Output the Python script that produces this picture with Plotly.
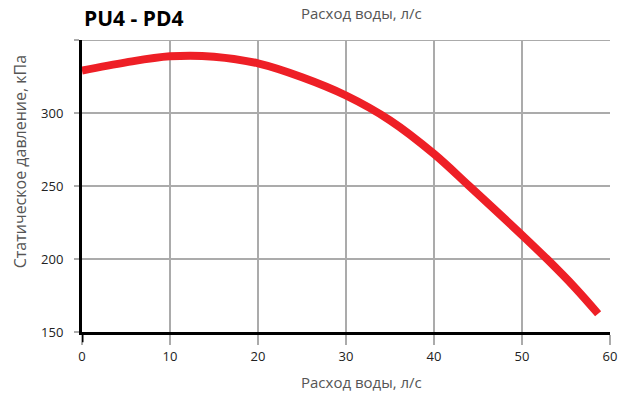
import plotly.graph_objects as go

flow = [0, 5, 10, 15, 20, 25, 30, 35, 40, 44, 50, 53, 56, 58.65]
pressure = [329, 334.7, 338.8, 338.6, 334, 324.5, 312, 295, 272, 250, 216.4, 199, 180.5, 162.5]

x_ticks = [0, 10, 20, 30, 40, 50, 60]
y_ticks = [150, 200, 250, 300, 350]
y_tick_text = ["150", "200", "250", "300", ""]

title_text = "PU4 - PD4"
x_title = "Расход воды, л/с"
y_title = "Статическое давление, кПа"

font_family = "Open Sans, Noto Sans, sans-serif"
grid_color = "#ababab"

fig = go.Figure()
fig.add_trace(go.Scatter(
    x=flow, y=pressure, mode="lines",
    line=dict(color="#ee1f26", width=8, shape="spline", smoothing=1.0),
    hoverinfo="skip", showlegend=False,
))

fig.update_layout(
    width=632, height=394,
    margin=dict(l=82, r=22, t=40, b=62),
    paper_bgcolor="white", plot_bgcolor="white",
    font=dict(family=font_family, size=13, color="#222"),
    xaxis=dict(
        range=[0, 60], tickvals=x_ticks, showgrid=True, gridcolor=grid_color, gridwidth=2,
        zeroline=False, showline=True, linecolor="black", linewidth=3,
        ticks="outside", ticklen=10, tickwidth=2, tickcolor=grid_color,
        tickfont=dict(size=13, color="#222"),
    ),
    yaxis=dict(
        range=[150, 350], tickvals=y_ticks, ticktext=y_tick_text,
        showgrid=True, gridcolor=grid_color, gridwidth=2,
        zeroline=False, showline=True, linecolor="black", linewidth=3,
        ticks="outside", ticklen=5, tickwidth=2, tickcolor=grid_color,
        ticklabelstandoff=8,
        tickfont=dict(size=13, color="#222"),
    ),
)

# top grid line (plotly hides the grid line lying on the plot edge)
fig.add_shape(type="line", xref="paper", yref="y", x0=-0.0095, x1=1, y0=y_ticks[-1], y1=y_ticks[-1],
              line=dict(color=grid_color, width=2), layer="below")
# black extension of the y axis below the x axis
fig.add_shape(type="line", xref="x", yref="paper", x0=0, x1=0, y0=-0.035, y1=0,
              line=dict(color="black", width=3))

fig.add_annotation(text="<b>" + title_text + "</b>", xref="paper", yref="paper",
                   x=0.0, y=1.0, xanchor="left", yanchor="bottom", yshift=6, showarrow=False,
                   font=dict(family=font_family, size=21, color="black"))
fig.add_annotation(text=x_title, xref="paper", yref="paper",
                   x=0.53, y=1.0, xanchor="center", yanchor="bottom", yshift=15, showarrow=False,
                   font=dict(family=font_family, size=15, color="#555"))
fig.add_annotation(text=x_title, xref="paper", yref="paper",
                   x=0.53, y=0.0, xanchor="center", yanchor="top", yshift=-38, showarrow=False,
                   font=dict(family=font_family, size=15, color="#555"))
fig.add_annotation(text=y_title, xref="paper", yref="paper",
                   x=-0.117, y=0.582, xanchor="center", yanchor="middle", textangle=-90,
                   showarrow=False, font=dict(family=font_family, size=16, color="#555"))

fig.write_html("out.html", config={"displayModeBar": False})

with open("out.html", "r", encoding="utf-8") as f:
    html = f.read()
html = html.replace("<head>", "<head><style>html,body{margin:0;padding:0;}</style>", 1)
with open("out.html", "w", encoding="utf-8") as f:
    f.write(html)
